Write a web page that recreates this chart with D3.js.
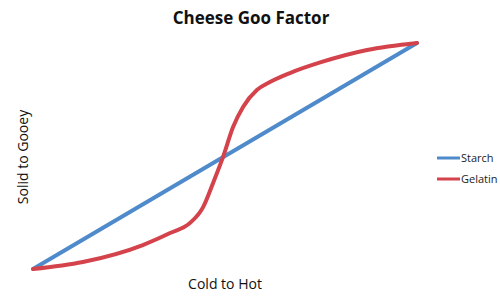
<!DOCTYPE html>
<html><head><meta charset="utf-8">
<script src="https://cdn.jsdelivr.net/npm/d3@7"></script>
<style>body{margin:0;background:#fff}svg{display:block}</style>
</head><body>
<svg id="c" width="500" height="300"></svg>
<script>
const seriesNames = ["Starch", "Gelatin"];
const seriesColors = ["#4f8bcb", "#d4434c"];
const starchX = [0, 10];
const starchY = [0, 100];
const gelatinX = [0, 1.3, 2.86, 3.57, 4.09, 4.43, 4.69, 4.95, 5.21, 5.47, 5.83, 6.17, 6.69, 7.5, 8.7, 10];
const gelatinY = [0, 3.1, 10.6, 15.9, 20.4, 27.4, 38.1, 49.6, 62.8, 71.7, 79.2, 82.7, 86.7, 91.5, 96.9, 100];
const titleText = "Cheese Goo Factor";
const xLabel = "Cold to Hot";
const yLabel = "Solid to Gooey";

const svg = d3.select("#c");
const font = "'Open Sans', Lato, sans-serif";
const x = d3.scaleLinear().domain([0, 10]).range([33, 417]);
const y = d3.scaleLinear().domain([0, 100]).range([269, 43]);

const line = d3.line().x(d => x(d[0])).y(d => y(d[1]));
const starch = starchX.map((v, i) => [v, starchY[i]]);
const gelatin = gelatinX.map((v, i) => [v, gelatinY[i]]);

svg.append("path").attr("d", line.curve(d3.curveLinear)(starch))
  .attr("fill", "none").attr("stroke", seriesColors[0]).attr("stroke-width", 4).attr("stroke-linecap", "round");
svg.append("path").attr("d", line.curve(d3.curveMonotoneX)(gelatin))
  .attr("fill", "none").attr("stroke", seriesColors[1]).attr("stroke-width", 4).attr("stroke-linecap", "round");

svg.append("text").attr("x", 251).attr("y", 24).attr("text-anchor", "middle")
  .attr("font-family", font).attr("font-weight", "bold").attr("font-size", 17).attr("fill", "#111").text(titleText);
svg.append("text").attr("x", 225).attr("y", 289).attr("text-anchor", "middle")
  .attr("font-family", font).attr("font-size", 14).attr("fill", "#111").text(xLabel);
svg.append("text").attr("transform", "translate(28,157) rotate(-90)").attr("text-anchor", "middle")
  .attr("font-family", font).attr("font-size", 14).attr("fill", "#111").text(yLabel);

const leg = svg.append("g");
seriesNames.forEach((n, i) => {
  const ly = 158 + i * 21;
  leg.append("line").attr("x1", 437).attr("x2", 460).attr("y1", ly).attr("y2", ly)
    .attr("stroke", seriesColors[i]).attr("stroke-width", 3);
  leg.append("text").attr("x", 461).attr("y", ly + 4).attr("font-family", font)
    .attr("font-size", 11).attr("fill", "#222").text(n);
});
</script>
</body></html>
